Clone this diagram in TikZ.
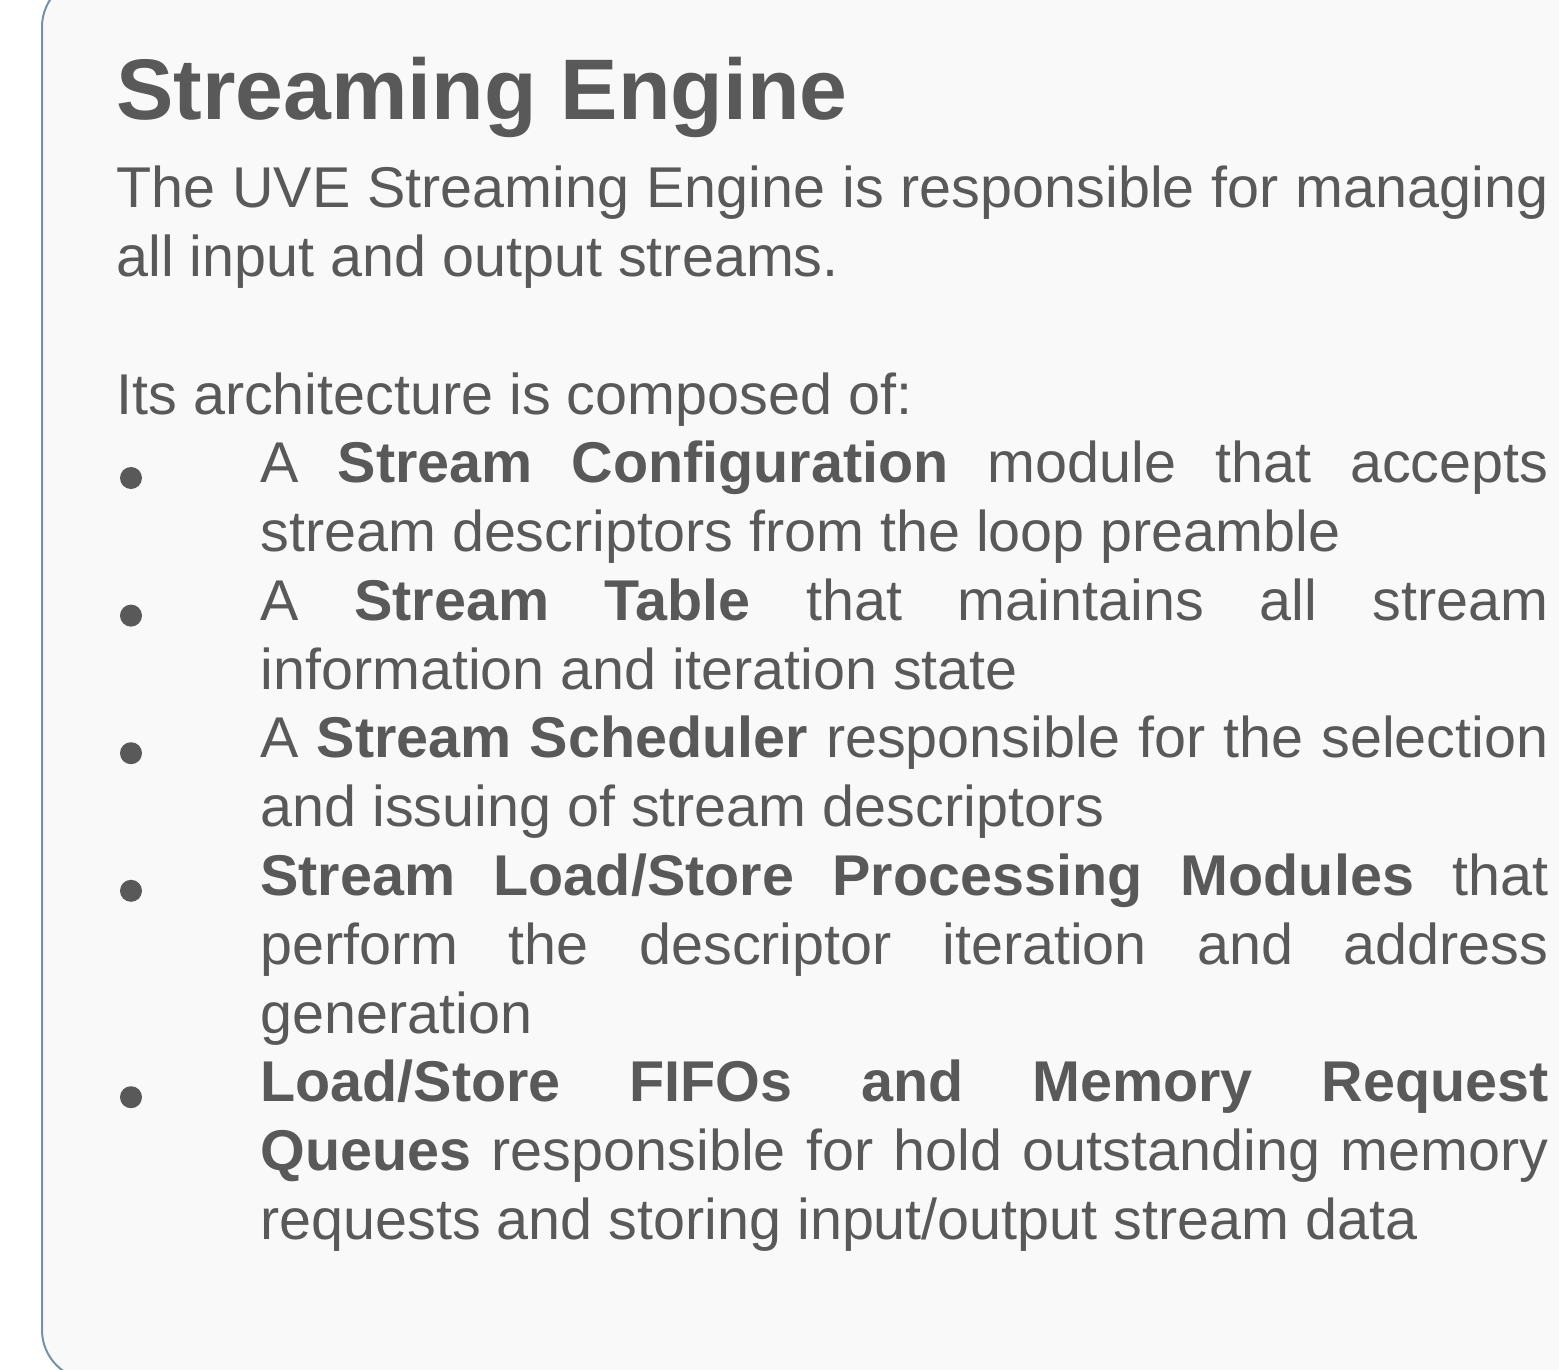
\documentclass[tikz,border=0pt]{standalone}
\usepackage{fontspec}
\setmainfont{Liberation Sans}
\definecolor{ink}{HTML}{595959}
\definecolor{panelfill}{HTML}{F9F9F9}
\definecolor{panelline}{HTML}{7393A3}
% a block of set lines: one justified line, and a paragraph's last (ragged) line
\newcommand\lineblock[2]{\vtop{\hsize=#1\relax #2}}
\newcommand\jline[1]{\hbox to \hsize{#1}}
\newcommand\lline[1]{\hbox to \hsize{#1\hfil}}
\tikzset{
  panel/.style={draw=panelline, line width=1pt, fill=panelfill, rounded corners=25pt},
  heading/.style={inner sep=0pt, anchor=base west, text=ink,
    font=\fontsize{43pt}{52pt}\selectfont\bfseries},
  bodytext/.style={inner sep=0pt, anchor=base west, text=ink,
    font=\fontsize{28.75pt}{34.4pt}\selectfont},
  dot/.style={circle, fill=ink, inner sep=0pt, minimum size=11pt},
}
\begin{document}
\begin{tikzpicture}[x=0.5pt, y=-0.5pt]
\useasboundingbox (0,0) rectangle (1559,1370);
\fill[white] (0,0) rectangle (1559,1370);
\begin{scope}
  \clip (0,0) rectangle (1559,1370);
  \draw[panel] (42,-23) rectangle (1600,1380);
\end{scope}

\node[heading] (title) at (116,120) {Streaming Engine};

\node[bodytext] (intro) at (116,207.5) {\lineblock{716pt}{%
  \jline{The UVE Streaming Engine is responsible for managing}%
  \lline{all input and output streams.}}};

\node[bodytext] (arch) at (116,414) {Its architecture is composed of:};

% bullet list
\node[bodytext] (i1) at (260,482.7) {\lineblock{644pt}{%
  \jline{A \textbf{Stream Configuration} module that accepts}%
  \lline{stream descriptors from the loop preamble}}};
\node[bodytext] (i2) at (260,620.3) {\lineblock{644pt}{%
  \jline{A \textbf{Stream Table} that maintains all stream}%
  \lline{information and iteration state}}};
\node[bodytext] (i3) at (260,757.9) {\lineblock{644pt}{%
  \jline{A \textbf{Stream Scheduler} responsible for the selection}%
  \lline{and issuing of stream descriptors}}};
\node[bodytext] (i4) at (260,895.5) {\lineblock{644pt}{%
  \jline{\textbf{Stream Load/Store Processing Modules} that}%
  \jline{perform the descriptor iteration and address}%
  \lline{generation}}};
\node[bodytext] (i5) at (260,1101.9) {\lineblock{644pt}{%
  \jline{\textbf{Load/Store FIFOs and Memory Request}}%
  \jline{\textbf{Queues} responsible for hold outstanding memory}%
  \lline{requests and storing input/output stream data}}};

\node[dot] (d1) at (131,478) {};
\node[dot] (d2) at (131,615.6) {};
\node[dot] (d3) at (131,753.2) {};
\node[dot] (d4) at (131,890.8) {};
\node[dot] (d5) at (131,1097.2) {};
\end{tikzpicture}
\end{document}
